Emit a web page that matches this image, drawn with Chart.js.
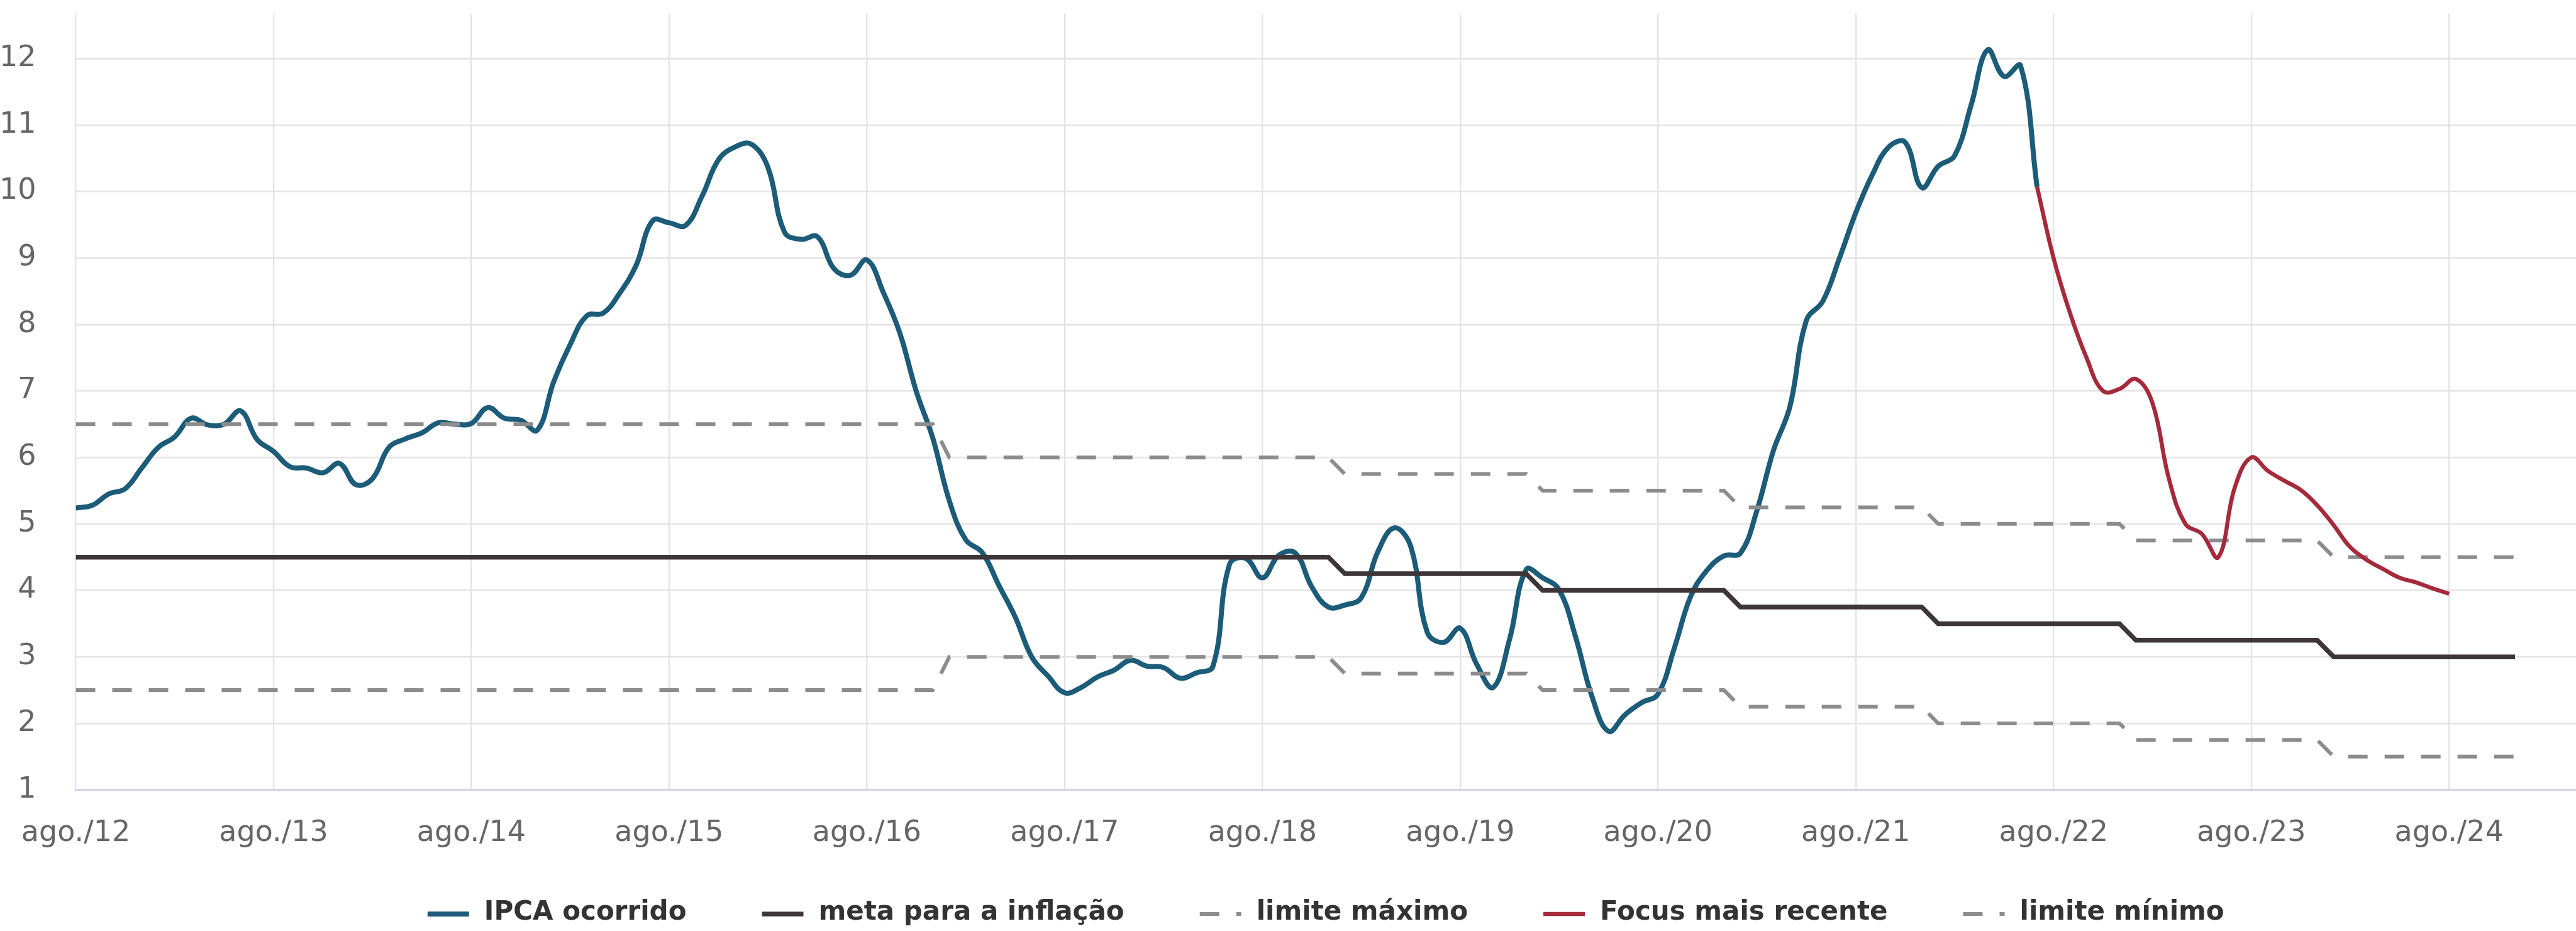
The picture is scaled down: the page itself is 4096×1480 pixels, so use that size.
<!DOCTYPE html>
<html lang="pt-BR">
<head>
<meta charset="utf-8">
<title>IPCA e meta para a inflação</title>
<script src="https://cdn.jsdelivr.net/npm/chart.js@4.4.1/dist/chart.umd.min.js"></script>
<style>
  html, body { margin: 0; padding: 0; background: #ffffff; }
  canvas { display: block; }
</style>
</head>
<body>
<canvas id="grafico" width="4096" height="1480"></canvas>
<script>
/* ============================================================
   IPCA acumulado em 12 meses x meta para a inflação
   ============================================================ */

// ── Eixo X: meses contados a partir de ago./2012 (mês 0) ──
const xTickMonths = [0, 12, 24, 36, 48, 60, 72, 84, 96, 108, 120, 132, 144];
const xTickLabels = [
  "ago./12", "ago./13", "ago./14", "ago./15", "ago./16", "ago./17", "ago./18",
  "ago./19", "ago./20", "ago./21", "ago./22", "ago./23", "ago./24",
];
const yTicks = [1, 2, 3, 4, 5, 6, 7, 8, 9, 10, 11, 12];

// ── IPCA ocorrido (% em 12 meses), ago./2012 a jul./2022 ──
const ipcaOcorrido = [
  5.24, 5.28, 5.45, 5.53, 5.84,
  6.15, 6.31, 6.59, 6.49, 6.50, 6.70, 6.27, 6.09, 5.86, 5.84, 5.77, 5.91,
  5.59, 5.68, 6.15, 6.28, 6.37, 6.52, 6.50, 6.51, 6.75, 6.59, 6.56, 6.41,
  7.14, 7.70, 8.13, 8.17, 8.47, 8.89, 9.56, 9.53, 9.49, 9.93, 10.48, 10.67,
  10.71, 10.36, 9.39, 9.28, 9.32, 8.84, 8.74, 8.97, 8.48, 7.87, 6.99, 6.29,
  5.35, 4.76, 4.57, 4.08, 3.60, 3.00, 2.71, 2.46, 2.54, 2.70, 2.80, 2.95,
  2.86, 2.84, 2.68, 2.76, 2.86, 4.39, 4.48, 4.19, 4.53, 4.56, 4.05, 3.75,
  3.78, 3.89, 4.58, 4.94, 4.66, 3.37, 3.22, 3.43, 2.89, 2.54, 3.27, 4.31,
  4.19, 4.01, 3.30, 2.40, 1.88, 2.13, 2.31, 2.44, 3.14, 3.92, 4.31, 4.52,
  4.56, 5.20, 6.10, 6.76, 8.06, 8.35, 8.99, 9.68, 10.25, 10.67, 10.74, 10.06,
  10.38, 10.54, 11.30, 12.13, 11.73, 11.89, 10.07,
];

// ── Focus mais recente, jul./2022 a ago./2024 ──
const focusInicio = 119;
const focusMaisRecente = [
  10.07, 9.0, 8.17, 7.5, 7.0, 7.03, 7.18, 6.82, 5.68, 5.0, 4.85, 4.5, 5.55,
  6.0, 5.8, 5.65, 5.51, 5.28, 4.98, 4.65, 4.46, 4.32, 4.19, 4.12, 4.03, 3.95,
];

// ── Meta e intervalo de tolerância por ano-calendário ──
const anos = [2012, 2013, 2014, 2015, 2016, 2017, 2018, 2019, 2020, 2021, 2022, 2023, 2024];
const metaInflacao = [4.5, 4.5, 4.5, 4.5, 4.5, 4.5, 4.5, 4.25, 4.0, 3.75, 3.5, 3.25, 3.0];
const limiteMaximo = [6.5, 6.5, 6.5, 6.5, 6.5, 6.0, 6.0, 5.75, 5.5, 5.25, 5.0, 4.75, 4.5];
const limiteMinimo = [2.5, 2.5, 2.5, 2.5, 2.5, 3.0, 3.0, 2.75, 2.5, 2.25, 2.0, 1.75, 1.5];

const X_MAX = 151.7;
const FONTE = "'DejaVu Sans', sans-serif";

// cada ano vira um patamar de jan. a dez. (cortado em ago./12 e dez./24)
function patamares(valores) {
  const pts = [];
  anos.forEach((ano, i) => {
    const jan = (ano - 2012) * 12 - 7;
    const dez = jan + 11;
    pts.push({ x: Math.max(jan, 0), y: valores[i] });
    pts.push({ x: dez, y: valores[i] });
  });
  return pts;
}

const serieMensal = (valores, inicio) =>
  valores.map((v, i) => ({ x: inicio + i, y: v }));

// ── Legenda desenhada abaixo do eixo ──
const legendaSeries = {
  id: "legendaSeries",
  afterDraw(chart) {
    const ctx = chart.ctx;
    const itens = chart.data.datasets;
    const simbolo = 66, espacoTexto = 24, espacoItem = 120, y = 1453;
    ctx.save();
    ctx.font = `bold 42px ${FONTE}`;
    const larguras = itens.map((ds) => ctx.measureText(ds.label).width);
    const total =
      larguras.reduce((a, w) => a + w, 0) +
      itens.length * (simbolo + espacoTexto) +
      (itens.length - 1) * espacoItem;
    let x = (chart.chartArea.left + chart.chartArea.right) / 2 - total / 2;
    itens.forEach((ds, i) => {
      ctx.strokeStyle = ds.borderColor;
      ctx.lineWidth = ds.borderWidth;
      ctx.lineCap = "butt";
      ctx.setLineDash(ds.borderDash || []);
      ctx.beginPath();
      ctx.moveTo(x, y);
      ctx.lineTo(x + simbolo, y);
      ctx.stroke();
      ctx.setLineDash([]);
      x += simbolo + espacoTexto;
      ctx.fillStyle = "#333333";
      ctx.textBaseline = "middle";
      ctx.textAlign = "left";
      ctx.fillText(ds.label, x, y - 2);
      x += larguras[i] + espacoItem;
    });
    ctx.restore();
  },
};

const ctx = document.getElementById("grafico").getContext("2d");

new Chart(ctx, {
  type: "line",
  data: {
    datasets: [
      {
        label: "IPCA ocorrido",
        data: serieMensal(ipcaOcorrido, 0),
        borderColor: "#1c5c78",
        borderWidth: 8,
        tension: 0.4,
        order: 5,
      },
      {
        label: "meta para a inflação",
        data: patamares(metaInflacao),
        borderColor: "#3e3539",
        borderWidth: 7.5,
        tension: 0,
        order: 4,
      },
      {
        label: "limite máximo",
        data: patamares(limiteMaximo),
        borderColor: "#8c8c8c",
        borderWidth: 6,
        borderDash: [31, 27],
        tension: 0,
        order: 3,
      },
      {
        label: "Focus mais recente",
        data: serieMensal(focusMaisRecente, focusInicio),
        borderColor: "#a52a3c",
        borderWidth: 6.5,
        tension: 0.4,
        order: 2,
      },
      {
        label: "limite mínimo",
        data: patamares(limiteMinimo),
        borderColor: "#8c8c8c",
        borderWidth: 6,
        borderDash: [31, 27],
        tension: 0,
        order: 1,
      },
    ],
  },
  options: {
    responsive: false,
    animation: false,
    events: [],
    layout: { padding: { top: 21.7, left: 0, right: 0, bottom: 0 } },
    elements: { point: { radius: 0 }, line: { borderCapStyle: "butt" } },
    plugins: { legend: { display: false }, tooltip: { enabled: false } },
    scales: {
      x: {
        type: "linear",
        min: 0,
        max: X_MAX,
        afterBuildTicks: (scale) => {
          scale.ticks = xTickMonths.map((v) => ({ value: v }));
        },
        afterFit: (scale) => {
          scale.height = 224.4;
          scale.paddingLeft = 0;
          scale.paddingRight = 0;
        },
        grid: { color: "#e4e4e4", lineWidth: 2.4, drawTicks: false },
        border: { display: true, color: "#ccd6eb", width: 3 },
        ticks: {
          autoSkip: false,
          maxRotation: 0,
          padding: 42,
          color: "#666666",
          font: { family: FONTE, size: 46 },
          callback: (v, i) => xTickLabels[i],
        },
      },
      y: {
        type: "linear",
        min: 1,
        max: 12.675,
        afterBuildTicks: (scale) => {
          scale.ticks = yTicks.map((v) => ({ value: v }));
        },
        afterFit: (scale) => {
          scale.width = 120.5;
          scale.paddingTop = 0;
          scale.paddingBottom = 0;
        },
        grid: { color: "#e4e4e4", lineWidth: 2.4, drawTicks: false },
        border: { display: false },
        ticks: {
          padding: 63,
          color: "#666666",
          font: { family: FONTE, size: 46 },
        },
      },
    },
  },
  plugins: [legendaSeries],
});
</script>
</body>
</html>
